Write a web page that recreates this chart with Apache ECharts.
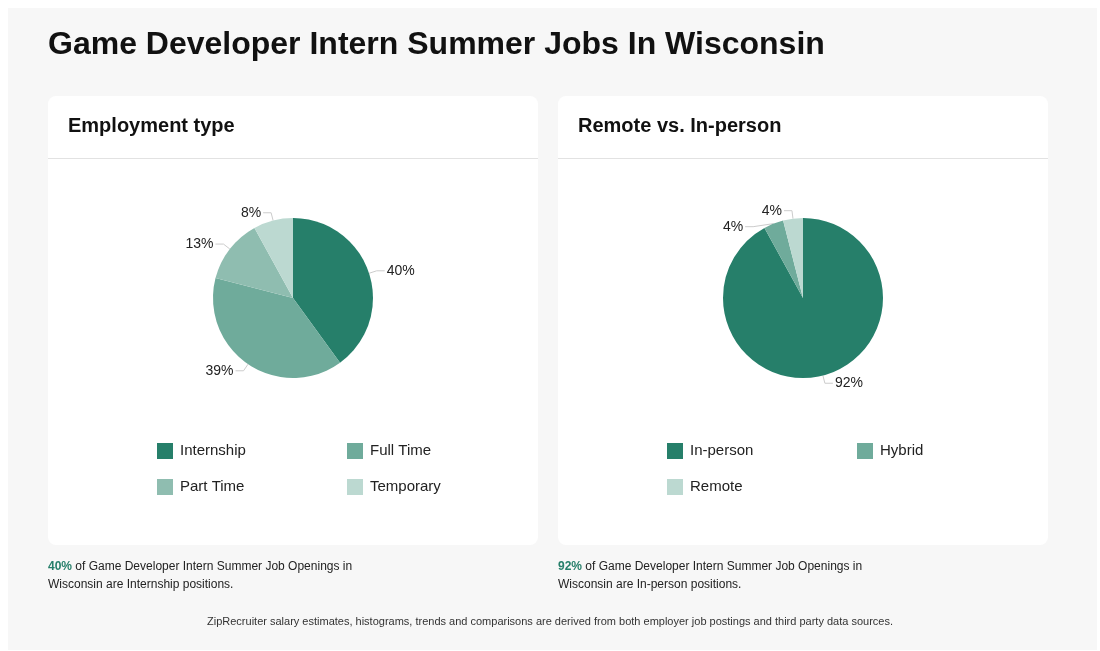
<!DOCTYPE html>
<html lang="en">
<head>
    <meta charset="UTF-8">
    <title>Game Developer Intern Summer Jobs In Wisconsin</title>
    <script src="https://cdn.jsdelivr.net/npm/echarts@6/dist/echarts.min.js"></script>
    <style>
        html, body { margin: 0; padding: 0; background: #fff; }
        #main { width: 1100px; height: 651px; }
    </style>
</head>
<body>
<div id="main"></div>
<script type="text/javascript">
    // data
    var employmentTypes = ['Internship', 'Full Time', 'Part Time', 'Temporary'];
    var employmentValues = [40, 39, 13, 8];
    var workPlaces = ['In-person', 'Hybrid', 'Remote'];
    var workPlaceValues = [92, 4, 4];
    var colors1 = ['#267f6a', '#6fab9b', '#8fbdb0', '#bcd9d1'];
    var colors2 = ['#267f6a', '#6fab9b', '#bcd9d1'];

    var font = 'Liberation Sans, Arial, sans-serif';
    var myChart = echarts.init(document.getElementById('main'));

    function legendAt(name, left, top) {
        return {
            data: [name], left: left, top: top, orient: 'horizontal', padding: 0,
            icon: 'rect', itemWidth: 16, itemHeight: 16, itemGap: 8,
            selectedMode: false,
            textStyle: { fontFamily: font, fontSize: 15, color: '#222', padding: [0, 0, 0, 2] }
        };
    }

    function pieSeries(names, values, colors, cx) {
        return {
            type: 'pie', center: [cx, 298], radius: [0, 80],
            startAngle: 90, clockwise: true,
            label: { formatter: '{d}%', fontFamily: font, fontSize: 14, color: '#222', distanceToLabelLine: 2 },
            labelLine: { length: 8, length2: 8, lineStyle: { color: '#ccc' } },
            itemStyle: { borderColor: '#fff', borderWidth: 0 },
            emphasis: { disabled: true },
            data: names.map(function (n, i) {
                return { name: n, value: values[i], itemStyle: { color: colors[i] } };
            })
        };
    }

    function card(x, title) {
        return [
            { type: 'rect', shape: { x: x, y: 96, width: 490, height: 449, r: 8 }, style: { fill: '#fff' } },
            { type: 'rect', shape: { x: x, y: 158, width: 490, height: 1 }, style: { fill: '#e2e2e2' } },
            { type: 'text', left: x + 20, top: 116, style: { text: title, font: 'bold 20px ' + font, fill: '#111' } }
        ];
    }

    function note(x, pct, rest) {
        return {
            type: 'text', left: x, top: 558,
            style: {
                text: '{g|' + pct + '} ' + rest,
                font: '12px ' + font, fill: '#222', lineHeight: 18,
                rich: { g: { font: 'bold 12px ' + font, fill: '#267f6a' } }
            }
        };
    }

    var graphics = [
        { type: 'rect', shape: { x: 8, y: 8, width: 1089, height: 642 }, style: { fill: '#f7f7f7' } },
        { type: 'text', left: 48, top: 29, style: { text: 'Game Developer Intern Summer Jobs In Wisconsin', font: 'bold 32px ' + font, fill: '#111' } }
    ].concat(card(48, 'Employment type'), card(558, 'Remote vs. In-person'), [
        note(48, '40%', 'of Game Developer Intern Summer Job Openings in\nWisconsin are Internship positions.'),
        note(558, '92%', 'of Game Developer Intern Summer Job Openings in\nWisconsin are In-person positions.'),
        { type: 'text', left: 'center', top: 616, style: { text: 'ZipRecruiter salary estimates, histograms, trends and comparisons are derived from both employer job postings and third party data sources.', font: '11px ' + font, fill: '#333' } }
    ]);

    myChart.setOption({
        animation: false,
        graphic: { elements: graphics },
        legend: [
            legendAt('Internship', 157, 443),
            legendAt('Full Time', 347, 443),
            legendAt('Part Time', 157, 479),
            legendAt('Temporary', 347, 479),
            legendAt('In-person', 667, 443),
            legendAt('Hybrid', 857, 443),
            legendAt('Remote', 667, 479)
        ],
        series: [
            pieSeries(employmentTypes, employmentValues, colors1, 293),
            pieSeries(workPlaces, workPlaceValues, colors2, 803)
        ]
    });
</script>
</body>
</html>
